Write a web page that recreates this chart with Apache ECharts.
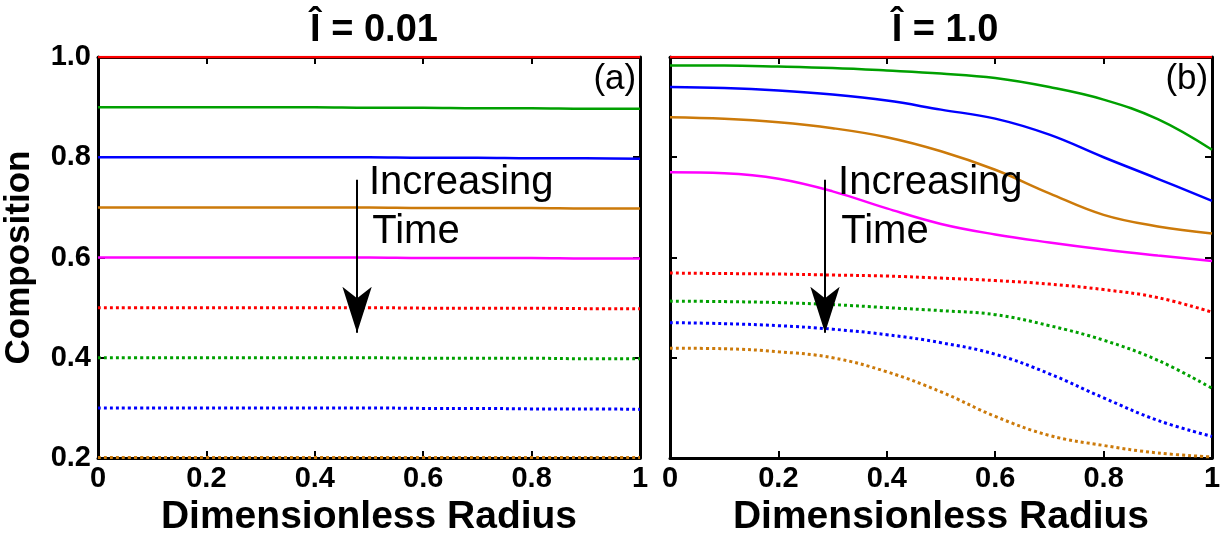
<!DOCTYPE html>
<html>
<head>
<meta charset="utf-8">
<script src="https://cdn.jsdelivr.net/npm/echarts@6/dist/echarts.min.js"></script>
<style>
  html, body { margin: 0; padding: 0; background: #fff; }
  #chart { width: 1225px; height: 539px; }
</style>
</head>
<body>
<div id="chart"></div>
<script>
const radius = [0, 0.1, 0.2, 0.3, 0.4, 0.5, 0.6, 0.7, 0.8, 0.9, 1.0]
const xTicks = ['0', '0.2', '0.4', '0.6', '0.8', '1']

// panel (a): I = 0.01
const aRed = [1, 1, 1, 1, 1, 1, 1, 1, 1, 1, 1]
const aGreen = [0.9, 0.9, 0.9, 0.9, 0.9, 0.899, 0.899, 0.898, 0.898, 0.897, 0.897]
const aBlue = [0.8, 0.8, 0.8, 0.8, 0.8, 0.8, 0.799, 0.799, 0.798, 0.798, 0.797]
const aOrange = [0.7, 0.7, 0.7, 0.7, 0.7, 0.7, 0.699, 0.699, 0.699, 0.698, 0.698]
const aMagenta = [0.6, 0.6, 0.6, 0.6, 0.6, 0.6, 0.599, 0.599, 0.599, 0.598, 0.598]
const aRedDot = [0.5, 0.5, 0.5, 0.5, 0.5, 0.5, 0.499, 0.499, 0.499, 0.498, 0.498]
const aGreenDot = [0.4, 0.4, 0.4, 0.4, 0.4, 0.4, 0.399, 0.399, 0.399, 0.398, 0.398]
const aBlueDot = [0.3, 0.3, 0.3, 0.3, 0.3, 0.3, 0.299, 0.299, 0.298, 0.298, 0.297]
const aOrangeDot = [0.201, 0.201, 0.201, 0.201, 0.201, 0.201, 0.201, 0.201, 0.201, 0.201, 0.201]

// panel (b): I = 1.0
const bRed = [1, 1, 1, 1, 1, 1, 1, 1, 1, 1, 1]
const bGreen = [0.983, 0.983, 0.981, 0.978, 0.973, 0.967, 0.958, 0.94, 0.915, 0.876, 0.815]
const bBlue = [0.94, 0.938, 0.933, 0.925, 0.913, 0.895, 0.877, 0.845, 0.8, 0.757, 0.713]
const bOrange = [0.88, 0.877, 0.87, 0.858, 0.84, 0.812, 0.775, 0.728, 0.685, 0.662, 0.648]
const bMagenta = [0.77, 0.768, 0.757, 0.732, 0.698, 0.667, 0.646, 0.63, 0.616, 0.604, 0.593]
const bRedDot = [0.569, 0.568, 0.567, 0.565, 0.563, 0.559, 0.554, 0.547, 0.536, 0.52, 0.491]
const bGreenDot = [0.513, 0.512, 0.51, 0.506, 0.5, 0.494, 0.486, 0.464, 0.435, 0.395, 0.339]
const bBlueDot = [0.47, 0.468, 0.464, 0.457, 0.446, 0.43, 0.407, 0.368, 0.32, 0.275, 0.243]
const bOrangeDot = [0.419, 0.418, 0.412, 0.4, 0.372, 0.332, 0.283, 0.245, 0.225, 0.21, 0.202]

// arrow annotations: [x, yStart, yEnd]
const arrowA = [0.478, 0.755, 0.45]
const arrowB = [0.286, 0.755, 0.45]

const FONT = '"Liberation Sans", Arial, sans-serif'
const colors = { red: '#ff0000', green: '#00a000', blue: '#0000ff', orange: '#cc7a0a', magenta: '#ff00ff' }

const chart = echarts.init(document.getElementById('chart'))

function pairs(ys) {
  return radius.map((r, i) => [r, ys[i]])
}

function makeSeries(idx, arr, color, dotted) {
  return {
    type: 'line',
    xAxisIndex: idx * 2,
    yAxisIndex: idx * 2,
    data: pairs(arr),
    smooth: 0.4,
    symbol: 'none',
    lineStyle: { color: color, width: dotted ? 3 : 2.5, type: dotted ? [3, 3] : 'solid' },
    z: 3
  }
}

function arrowSeries(idx, a) {
  return {
    type: 'line',
    xAxisIndex: idx * 2,
    yAxisIndex: idx * 2,
    data: [],
    markLine: {
      silent: true,
      symbol: ['none', 'arrow'],
      symbolSize: 24,
      label: { show: false },
      lineStyle: { color: '#000', width: 2, type: 'solid' },
      data: [[
        { coord: [a[0], a[1]], symbol: 'none' },
        { coord: [a[0], a[2]], symbol: 'arrow', symbolSize: [22, 46] }
      ]]
    },
    z: 5
  }
}

function xAxes(gi) {
  const base = {
    type: 'value', gridIndex: gi, min: 0, max: 1, interval: 0.2,
    axisLine: { onZero: false, lineStyle: { color: '#000', width: 3 } },
    axisTick: { inside: true, length: 7, lineStyle: { color: '#000', width: 2 } },
    splitLine: { show: false }
  }
  return [
    Object.assign({}, base, {
      position: 'bottom',
      name: 'Dimensionless Radius',
      nameLocation: 'middle',
      nameGap: 35,
      nameTextStyle: { fontFamily: FONT, fontWeight: 'bold', fontSize: 39, color: '#000' },
      axisLabel: {
        fontFamily: FONT, fontWeight: 'bold', fontSize: 29, color: '#000', margin: 6,
        formatter: v => xTicks[Math.round(v / 0.2)]
      }
    }),
    Object.assign({}, base, { position: 'top', axisLabel: { show: false } })
  ]
}

function yAxes(gi, labels) {
  const base = {
    type: 'value', gridIndex: gi, min: 0.2, max: 1.0, interval: 0.2,
    axisLine: { onZero: false, lineStyle: { color: '#000', width: 3 } },
    axisTick: { inside: true, length: 7, lineStyle: { color: '#000', width: 2 } },
    splitLine: { show: false }
  }
  const left = Object.assign({}, base, {
    position: 'left',
    axisLabel: labels
      ? { fontFamily: FONT, fontWeight: 'bold', fontSize: 29, color: '#000', margin: 7, formatter: v => v.toFixed(1) }
      : { show: false }
  })
  if (labels) {
    left.name = 'Composition'
    left.nameLocation = 'middle'
    left.nameGap = 61
    left.nameTextStyle = { fontFamily: FONT, fontWeight: 'bold', fontSize: 35, color: '#000' }
  }
  return [left, Object.assign({}, base, { position: 'right', axisLabel: { show: false } })]
}

const series = [
  makeSeries(0, aRed, colors.red, false),
  makeSeries(0, aGreen, colors.green, false),
  makeSeries(0, aBlue, colors.blue, false),
  makeSeries(0, aOrange, colors.orange, false),
  makeSeries(0, aMagenta, colors.magenta, false),
  makeSeries(0, aRedDot, colors.red, true),
  makeSeries(0, aGreenDot, colors.green, true),
  makeSeries(0, aBlueDot, colors.blue, true),
  makeSeries(0, aOrangeDot, colors.orange, true),
  makeSeries(1, bRed, colors.red, false),
  makeSeries(1, bGreen, colors.green, false),
  makeSeries(1, bBlue, colors.blue, false),
  makeSeries(1, bOrange, colors.orange, false),
  makeSeries(1, bMagenta, colors.magenta, false),
  makeSeries(1, bRedDot, colors.red, true),
  makeSeries(1, bGreenDot, colors.green, true),
  makeSeries(1, bBlueDot, colors.blue, true),
  makeSeries(1, bOrangeDot, colors.orange, true),
  arrowSeries(0, arrowA),
  arrowSeries(1, arrowB)
]

chart.setOption({
  animation: false,
  backgroundColor: '#fff',
  title: [
    { text: 'Î = 0.01', left: 369, top: 7, textAlign: 'center',
      textStyle: { fontFamily: FONT, fontWeight: 'bold', fontSize: 38, color: '#000' } },
    { text: 'Î = 1.0', left: 940, top: 7, textAlign: 'center',
      textStyle: { fontFamily: FONT, fontWeight: 'bold', fontSize: 38, color: '#000' } }
  ],
  grid: [
    { left: 98, top: 57, width: 542, height: 401, outerBoundsMode: 'none' },
    { left: 670, top: 57, width: 542, height: 401, outerBoundsMode: 'none' }
  ],
  xAxis: [...xAxes(0), ...xAxes(1)],
  yAxis: [...yAxes(0, true), ...yAxes(1, false)],
  series: series
})

// text annotations anchored in data coordinates
function textAt(gi, x, y, text, size, align) {
  const p = chart.convertToPixel({ xAxisIndex: gi * 2, yAxisIndex: gi * 2 }, [x, y])
  return {
    type: 'text', x: p[0], y: p[1], z: 10,
    style: { text: text, fontFamily: FONT, fontSize: size, fill: '#000',
      align: align || 'left', verticalAlign: 'middle' }
  }
}

chart.setOption({
  graphic: [
    textAt(0, 0.5, 0.748, 'Increasing', 40),
    textAt(0, 0.506, 0.65, 'Time', 40),
    textAt(1, 0.31, 0.748, 'Increasing', 40),
    textAt(1, 0.316, 0.65, 'Time', 40),
    textAt(0, 0.993, 0.956, '(a)', 35, 'right'),
    textAt(1, 0.993, 0.956, '(b)', 35, 'right')
  ]
})
</script>
</body>
</html>
